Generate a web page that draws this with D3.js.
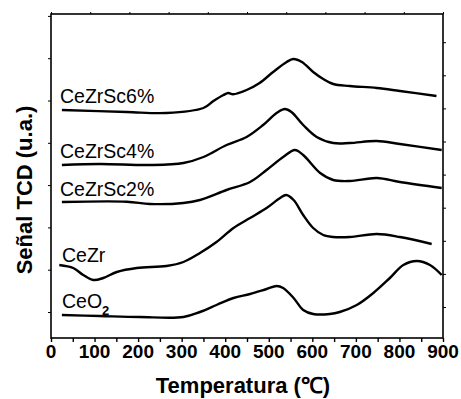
<!DOCTYPE html>
<html>
<head>
<meta charset="utf-8">
<script src="https://cdn.jsdelivr.net/npm/d3@7"></script>
<style>
  body { margin: 0; background: #fff; }
  text { font-family: "Liberation Sans", Arial, sans-serif; fill: #000; }
  .tick-label { font-size: 19px; font-weight: bold; }
  .axis-title { font-size: 22px; font-weight: bold; }
  .series-label { font-size: 19.5px; }
</style>
</head>
<body>
<div id="chart"></div>
<script>
// temperatures (°C) and TCD signal (arbitrary units)
const sc6Temp = [25, 174, 265, 350, 373, 396, 407, 418, 449, 479, 510, 541, 556, 576, 602, 625, 648, 686, 748, 801, 885];
const sc6Sig  = [228, 226, 225, 230, 237, 243, 245, 243.7, 248, 255, 266, 276, 279, 276, 266, 259, 254, 252, 250, 247, 242];

const sc4Temp = [25, 112, 227, 304, 350, 403, 449, 487, 518, 537, 552, 579, 610, 648, 686, 748, 801, 897];
const sc4Sig  = [173, 174, 173, 175, 181, 193, 201, 213, 225, 229, 226, 213, 201, 195, 195, 197, 194, 188];

const sc2Temp = [25, 174, 227, 304, 342, 403, 457, 495, 533, 560, 579, 618, 648, 686, 748, 801, 897];
const sc2Sig  = [136, 136.3, 134, 135, 138, 148, 156, 168, 181, 188, 183, 165, 158, 157, 160, 156, 150];

const czTemp = [19, 51, 74, 97, 120, 151, 197, 265, 304, 342, 380, 419, 457, 495, 526, 540, 557, 579, 602, 625, 648, 686, 748, 801, 874];
const czSig  = [73, 70, 63, 58, 60, 66, 70, 72, 76, 85, 96, 110, 120, 130, 140, 143, 138, 123, 110, 103, 101, 101, 104, 101, 94];

const ceTemp = [25, 112, 204, 304, 342, 380, 419, 457, 495, 518, 533, 557, 579, 602, 640, 663, 702, 740, 778, 809, 840, 870, 897];
const ceSig  = [23, 22, 21, 21, 26, 33, 40, 44, 49, 52, 50, 40, 28, 24, 24, 26, 33, 45, 60, 73, 77, 73, 63];

const seriesNames = ['CeZrSc6%', 'CeZrSc4%', 'CeZrSc2%', 'CeZr', 'CeO2'];
const xTickValues = [0, 100, 200, 300, 400, 500, 600, 700, 800, 900];

const width = 461, height = 399;
const margin = {top: 14, right: 18, bottom: 61, left: 51};
const innerW = width - margin.left - margin.right;
const innerH = height - margin.top - margin.bottom;

const svg = d3.select('#chart').append('svg')
    .attr('width', width)
    .attr('height', height);

const chart = svg.append('g')
    .attr('transform', `translate(${margin.left},${margin.top})`);

const x = d3.scaleLinear().domain([0, 900]).range([0, innerW]);
const y = d3.scaleLinear().domain([0, 324]).range([innerH, 0]);

svg.append('defs').append('clipPath').attr('id', 'plot-clip')
  .append('rect').attr('width', innerW).attr('height', innerH);

// curves
const series = [
  {name: seriesNames[0], t: sc6Temp, v: sc6Sig},
  {name: seriesNames[1], t: sc4Temp, v: sc4Sig},
  {name: seriesNames[2], t: sc2Temp, v: sc2Sig},
  {name: seriesNames[3], t: czTemp, v: czSig},
  {name: seriesNames[4], t: ceTemp, v: ceSig}
];

const line = d3.line()
    .x(d => x(d[0]))
    .y(d => y(d[1]))
    .curve(d3.curveCatmullRom.alpha(0.5));

chart.append('g').attr('clip-path', 'url(#plot-clip)')
  .selectAll('.curve')
    .data(series)
  .join('path')
    .attr('class', 'curve')
    .attr('fill', 'none')
    .attr('stroke', '#000')
    .attr('stroke-width', 2.4)
    .attr('stroke-linejoin', 'round')
    .attr('d', d => line(d.t.map((t, i) => [t, d.v[i]])));

// labels sit just above the start of each curve
const labelPos = {'CeZrSc6%': [60, 103], 'CeZrSc4%': [60, 158], 'CeZrSc2%': [60, 196], 'CeZr': [62, 262], 'CeO2': [62, 308]};
series.forEach(s => {
  const [lx, ly] = labelPos[s.name];
  const t = svg.append('text')
      .attr('class', 'series-label')
      .attr('x', lx)
      .attr('y', ly);
  if (s.name === 'CeO2') {
    t.append('tspan').text('CeO');
    t.append('tspan').attr('dy', 7).style('font-size', '13px').style('font-weight', 'bold').text('2');
  } else {
    t.text(s.name);
  }
});

// frame
chart.append('rect')
    .attr('width', innerW)
    .attr('height', innerH)
    .attr('fill', 'none')
    .attr('stroke', '#000')
    .attr('stroke-width', 1.6);

// bottom axis: labelled every 100, minor ticks every 50
const xAxis = chart.append('g')
    .attr('transform', `translate(0,${innerH})`)
    .call(d3.axisBottom(x).tickValues(d3.range(0, 901, 50)).tickSize(4).tickFormat(''));
xAxis.select('.domain').remove();
xAxis.selectAll('line').attr('stroke-width', 1.4);

chart.append('g')
    .attr('transform', `translate(0,${innerH})`)
  .selectAll('.tick-label')
    .data(xTickValues)
  .join('text')
    .attr('class', 'tick-label')
    .attr('text-anchor', 'middle')
    .attr('x', d => x(d))
    .attr('y', 20)
    .text(d => d);

// top axis: ten equal divisions, no labels
const topAxis = chart.append('g')
    .call(d3.axisTop(x).tickValues(d3.range(0, 901, 90)).tickSize(2).tickFormat(''));
topAxis.select('.domain').remove();

// left / right unlabelled ticks
const leftAxis = chart.append('g')
    .call(d3.axisLeft(y).tickValues(d3.range(26, 324, 42.3)).tickSize(3).tickFormat(''));
leftAxis.select('.domain').remove();

const rightAxis = chart.append('g')
    .attr('transform', `translate(${innerW},0)`)
    .call(d3.axisRight(y).tickValues(d3.range(31, 324, 33.1)).tickSize(3).tickFormat(''));
rightAxis.select('.domain').remove();

// axis titles
svg.append('text')
    .attr('class', 'axis-title')
    .attr('text-anchor', 'middle')
    .attr('x', 243)
    .attr('y', 393)
    .text('Temperatura (\u2103)');

svg.append('text')
    .attr('class', 'axis-title')
    .attr('text-anchor', 'middle')
    .attr('transform', 'translate(32,190) rotate(-90)')
    .text('Señal TCD (u.a.)');
</script>
</body>
</html>
